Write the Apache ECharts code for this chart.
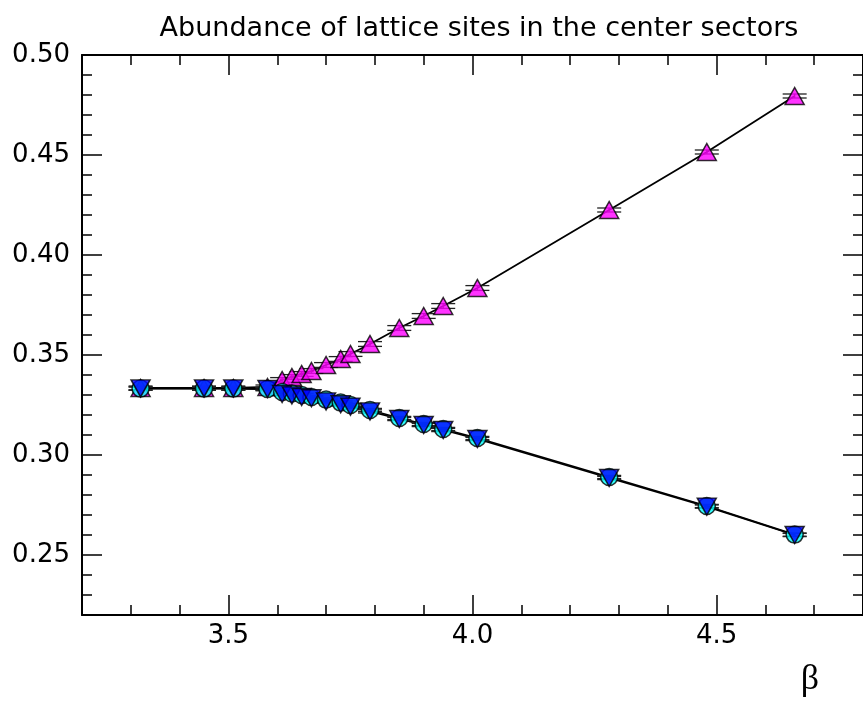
<!DOCTYPE html>
<html>
<head>
<meta charset="utf-8">
<script src="https://cdn.jsdelivr.net/npm/echarts@6/dist/echarts.min.js"></script>
<style>
html,body{margin:0;padding:0;background:#fff;}
#container1{width:863px;height:701px;}
</style>
</head>
<body>
<div id="container1"></div>
<script>
// beta values (x axis)
var beta = [3.32, 3.45, 3.51, 3.58, 3.61, 3.63, 3.65, 3.67, 3.70, 3.73, 3.75, 3.79, 3.85, 3.90, 3.94, 4.01, 4.28, 4.48, 4.66];
// abundance per sector
var sectorUp     = [0.3335, 0.3335, 0.3335, 0.3340, 0.3375, 0.3390, 0.3405, 0.3420, 0.3450, 0.3480, 0.3505, 0.3555, 0.3635, 0.3695, 0.3745, 0.3835, 0.4225, 0.4515, 0.4795];
var sectorCircle = [0.3332, 0.3332, 0.3332, 0.3330, 0.3315, 0.3308, 0.3300, 0.3290, 0.3277, 0.3262, 0.3250, 0.3225, 0.3185, 0.3155, 0.3130, 0.3085, 0.2890, 0.2745, 0.2602];
var sectorDown   = [0.3333, 0.3333, 0.3333, 0.3330, 0.3305, 0.3298, 0.3290, 0.3284, 0.3268, 0.3254, 0.3242, 0.3218, 0.3180, 0.3150, 0.3125, 0.3080, 0.2885, 0.2742, 0.2600];
// error bars
var errUp     = [0.0010, 0.0010, 0.0010, 0.0010, 0.0012, 0.0012, 0.0012, 0.0012, 0.0012, 0.0012, 0.0012, 0.0012, 0.0012, 0.0012, 0.0012, 0.0012, 0.0010, 0.0010, 0.0010];
var errCircle = [0.0008, 0.0008, 0.0008, 0.0008, 0.0008, 0.0008, 0.0008, 0.0008, 0.0008, 0.0008, 0.0008, 0.0008, 0.0008, 0.0008, 0.0008, 0.0008, 0.0008, 0.0008, 0.0008];
var errDown   = [0.0008, 0.0008, 0.0008, 0.0008, 0.0008, 0.0008, 0.0008, 0.0008, 0.0008, 0.0008, 0.0008, 0.0008, 0.0008, 0.0008, 0.0008, 0.0008, 0.0008, 0.0008, 0.0008];
// tick labels
var xMajorTicks = [3.5, 4.0, 4.5];
var yMajorTicks = [0.25, 0.30, 0.35, 0.40, 0.45, 0.50];

var myChart = echarts.init(document.getElementById('container1'));

function pairs(ys){
	return beta.map(function(b, i){ return [b, ys[i]]; });
}
function errPairs(ys, es){
	return beta.map(function(b, i){ return [b, ys[i], es[i]]; });
}

var labelFont = {color:'#000', fontFamily:'DejaVu Sans', fontSize:26};

// one axis = major or minor ticks on one side
function xAx(pos, major){
	return {
		type:'value', position:pos, min:3.2, max:4.8,
		interval: major ? null : 0.1,
		axisLine:{show:major, lineStyle:{color:'#000', width:2}},
		axisTick: major ? {inside:true, length:20, customValues:xMajorTicks, lineStyle:{color:'#000', width:1.5}}
		                : {inside:true, length:10, lineStyle:{color:'#000', width:1.5}},
		axisLabel: (major && pos == 'bottom') ? Object.assign({customValues:xMajorTicks, margin:8, formatter:function(v){ return v.toFixed(1); }}, labelFont) : {show:false},
		splitLine:{show:false}
	};
}
function yAx(pos, major){
	return {
		type:'value', position:pos, min:0.22, max:0.50,
		interval: major ? null : 0.01,
		axisLine:{show:major, lineStyle:{color:'#000', width:2}},
		axisTick: major ? {inside:true, length:20, customValues:yMajorTicks, lineStyle:{color:'#000', width:1.5}}
		                : {inside:true, length:10, lineStyle:{color:'#000', width:1.5}},
		axisLabel: (major && pos == 'left') ? Object.assign({customValues:yMajorTicks, margin:12, formatter:function(v){ return v.toFixed(2); }}, labelFont) : {show:false},
		splitLine:{show:false}
	};
}

function capItem(params, api){
	var x = api.value(0), y = api.value(1), e = api.value(2);
	var p1 = api.coord([x, y + e]), p2 = api.coord([x, y - e]);
	var h = 12;
	var st = {stroke:'#222', lineWidth:1.3};
	return {type:'group', children:[
		{type:'line', shape:{x1:p1[0]-h, y1:p1[1], x2:p1[0]+h, y2:p1[1]}, style:st},
		{type:'line', shape:{x1:p2[0]-h, y1:p2[1], x2:p2[0]+h, y2:p2[1]}, style:st},
		{type:'line', shape:{x1:p1[0], y1:p1[1], x2:p2[0], y2:p2[1]}, style:st}
	]};
}

function lineSeries(ys){
	return {type:'line', data:pairs(ys), symbol:'none', z:2, silent:true,
		lineStyle:{color:'#000', width:1.8}};
}
function capSeries(ys, es){
	return {type:'custom', data:errPairs(ys, es), renderItem:capItem, z:3, silent:true,
		encode:{x:0, y:1}};
}

var option = {
	animation:false,
	backgroundColor:'#fff',
	title:{
		text:'Abundance of lattice sites in the center sectors',
		left:474, top:10, textAlign:'center',
		textStyle:{color:'#000', fontFamily:'DejaVu Sans', fontSize:27, fontWeight:'normal'}
	},
	grid:{left:82, right:-3, top:55, bottom:86, containLabel:false},
	xAxis:[xAx('bottom', true), xAx('bottom', false), xAx('top', true), xAx('top', false)],
	yAxis:[yAx('left', true), yAx('left', false), yAx('right', true), yAx('right', false)],
	graphic:[{
		type:'text', x:810, y:680,
		style:{text:'β', fill:'#000', font:'36px "Liberation Serif"', textAlign:'center', textVerticalAlign:'middle'}
	}],
	series:[
		lineSeries(sectorUp),
		lineSeries(sectorCircle),
		lineSeries(sectorDown),
		capSeries(sectorUp, errUp),
		capSeries(sectorCircle, errCircle),
		capSeries(sectorDown, errDown),
		{type:'scatter', data:pairs(sectorUp), z:4, symbol:'triangle', symbolSize:[19, 17],
			itemStyle:{color:'#ff00ff', borderColor:'#000', borderWidth:1.5}},
		{type:'scatter', data:pairs(sectorCircle), z:5, symbol:'circle', symbolSize:17,
			itemStyle:{color:'#00ffff', borderColor:'#000', borderWidth:1.5}},
		{type:'scatter', data:pairs(sectorDown), z:6, symbol:'triangle', symbolRotate:180, symbolSize:[19, 17],
			itemStyle:{color:'#0000ff', borderColor:'#000', borderWidth:1.5}}
	]
};
myChart.setOption(option, true);
</script>
</body>
</html>
